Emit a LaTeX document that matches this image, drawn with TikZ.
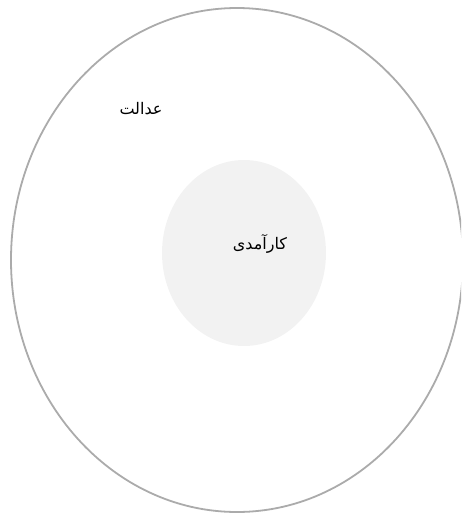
\documentclass[tikz,border=0pt]{standalone}
\usepackage{fontspec}
\newfontfamily\arabicfont[Script=Arabic]{DejaVu Sans}
\TeXXeTstate=1
\definecolor{ringgray}{HTML}{ABABAB}
\definecolor{corefill}{HTML}{F2F2F2}
\begin{document}
\begin{tikzpicture}[x=1pt, y=-1pt,
    ringline/.style={draw=ringgray, line width=1.8pt},
    label/.style={font=\arabicfont\fontsize{16}{18}\selectfont, inner sep=1pt}]
    \useasboundingbox (0,0) rectangle (461,514);
    \clip (0,0) rectangle (461,514);

    % Dayere-ye birooni
    \draw[ringline] (237,260) ellipse [x radius=226, y radius=252];
    \node[label] (edalat) at (141,109) {\beginR عدالت\endR};

    % Dayere-ye daruni
    \fill[corefill] (244,253) ellipse [x radius=82, y radius=93];
    \node[label] (karamadi) at (260,244) {\beginR کارآمدی\endR};
\end{tikzpicture}
\end{document}
